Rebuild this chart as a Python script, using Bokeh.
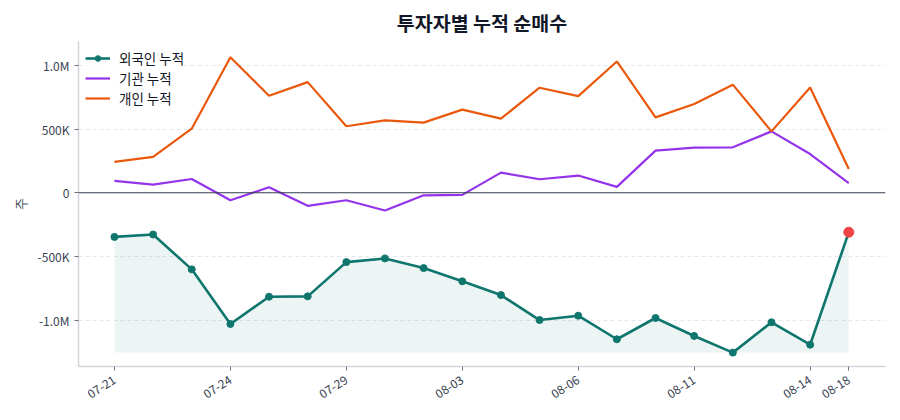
from math import pi

from bokeh.embed import file_html
from bokeh.models import FixedTicker, Range1d, Span
from bokeh.plotting import figure
from bokeh.resources import INLINE

# 거래일 (20일)
dates = ["07-21", "07-22", "07-23", "07-24", "07-25", "07-28", "07-29", "07-30", "07-31", "08-03",
         "08-04", "08-05", "08-06", "08-07", "08-08", "08-11", "08-12", "08-13", "08-14", "08-18"]
tick_idx = [0, 3, 6, 9, 12, 15, 18, 19]

# 누적 순매수 (주)
foreign = [-347000, -328000, -602000, -1031000, -817000, -814000, -545000, -516000, -592000, -696000,
           -804000, -1000000, -966000, -1151000, -984000, -1125000, -1256000, -1018000, -1194000, -310000]
institution = [93000, 64000, 108000, -59000, 43000, -103000, -59000, -140000, -20000, -17000,
               158000, 106000, 135000, 46000, 331000, 354000, 357000, 482000, 304000, 75000]
individual = [242000, 281000, 503000, 1065000, 762000, 869000, 522000, 569000, 551000, 653000,
              582000, 825000, 759000, 1031000, 592000, 697000, 849000, 482000, 827000, 187000]

y_ticks = [-1000000, -500000, 0, 500000, 1000000]
y_labels = ["-1.0M", "-500K", "0", "500K", "1.0M"]

FONT = "Noto Sans CJK KR"
TEAL = "#0f766e"
PURPLE = "#9333ea"
ORANGE = "#ea580c"
RED = "#ef4444"

x = list(range(len(dates)))

p = figure(width=892, height=412, output_backend="svg", toolbar_location=None, tools="",
           x_range=Range1d(-0.93, 19.95), y_range=Range1d(-1365000, 1188000),
           min_border_left=78, min_border_right=7, min_border_top=40, min_border_bottom=46,
           title="투자자별 누적 순매수")
p.outline_line_color = None
p.background_fill_color = "white"

p.title.align = "center"
p.title.text_font = FONT
p.title.text_font_size = "19.5px"
p.title.text_font_style = "bold"
p.title.text_color = "#111827"

# 외국인 영역
p.varea(x=x, y1=[min(foreign)] * len(x), y2=foreign, fill_color=TEAL, fill_alpha=0.08)

p.add_layout(Span(location=0, dimension="width", line_color="#374151", line_width=1.2))

p.line(x, foreign, line_color=TEAL, line_width=2.6, legend_label="외국인 누적")
p.scatter(x, foreign, size=7, fill_color=TEAL, line_color=TEAL, legend_label="외국인 누적")
p.line(x, institution, line_color=PURPLE, line_width=2.2, legend_label="기관 누적")
p.line(x, individual, line_color=ORANGE, line_width=2.2, legend_label="개인 누적")
p.scatter([x[-1]], [foreign[-1]], size=10, fill_color=RED, line_color=RED)

# 축
p.xgrid.visible = False
p.ygrid.grid_line_color = "#e5e7eb"
p.ygrid.grid_line_dash = "4 3"
p.ygrid.ticker = FixedTicker(ticks=y_ticks)

p.yaxis.ticker = FixedTicker(ticks=y_ticks)
p.yaxis.major_label_overrides = dict(zip(y_ticks, y_labels))
p.xaxis.ticker = FixedTicker(ticks=tick_idx)
p.xaxis.major_label_overrides = {i: dates[i] for i in tick_idx}
p.xaxis.major_label_orientation = pi / 5.5
p.xaxis.major_label_standoff = 8

for ax in (p.xaxis, p.yaxis):
    ax.axis_line_color = "#d1d5db"
    ax.axis_line_width = 1.5
    ax.major_tick_line_color = "#6b7280"
    ax.major_tick_in = 0
    ax.major_tick_out = 4
    ax.minor_tick_line_color = None
    ax.major_label_text_font = FONT
    ax.major_label_text_font_size = "12px"
    ax.major_label_text_color = "#374151"

p.yaxis.axis_label = "주"
p.yaxis.axis_label_text_font = FONT
p.yaxis.axis_label_text_font_size = "13px"
p.yaxis.axis_label_text_font_style = "normal"
p.yaxis.axis_label_text_color = "#4b5563"

p.legend.location = "top_left"
p.legend.border_line_color = None
p.legend.background_fill_alpha = 0.8
p.legend.label_text_font = FONT
p.legend.label_text_font_size = "13.5px"
p.legend.label_text_color = "#111827"
p.legend.label_standoff = 9
p.legend.glyph_width = 25
p.legend.glyph_height = 14
p.legend.label_height = 14
p.legend.spacing = -1
p.legend.padding = 4
p.legend.margin = 7

open("out.html", "w").write(file_html(p, INLINE))
